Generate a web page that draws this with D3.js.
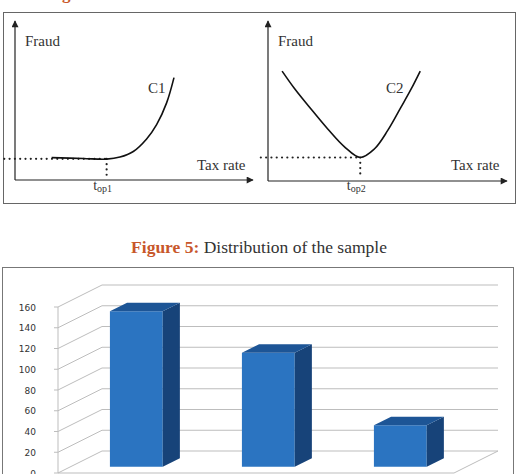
<!DOCTYPE html>
<html>
<head>
<meta charset="utf-8">
<script src="https://cdn.jsdelivr.net/npm/d3@7"></script>
<style>
  body { margin: 0; background: #fff; }
  svg { display: block; }
</style>
</head>
<body>
<svg id="chart" width="522" height="474"></svg>
<script>
// ---- data: figure 4 (fraud vs tax rate, arbitrary units 0-10)
var c1Points = [[1.54, 1.41], [2.87, 1.35], [3.85, 1.31], [4.41, 1.44], [4.97, 1.79],
                [5.53, 2.58], [5.95, 3.48], [6.37, 4.85], [6.68, 6.44]];
var c2Points = [[0.59, 6.87], [1.10, 5.80], [1.80, 4.50], [2.50, 3.25], [3.19, 2.15],
                [3.86, 1.47], [4.45, 2.00], [5.01, 3.16], [5.56, 4.60], [5.98, 5.72], [6.37, 6.87]];
var optima = [[3.85, 1.33], [3.86, 1.47]];
var curveNames = ["C1", "C2"];
var optLabels = ["1", "2"];

// ---- data: figure 5 (distribution of the sample)
var categories = ["a", "b", "c"];
var counts = [150, 110, 40];
var yTicks = [0, 20, 40, 60, 80, 100, 120, 140, 160];

var svg = d3.select("#chart");
var serif = "'Liberation Serif', 'Times New Roman', serif";

// arrow marker
svg.append("defs").append("marker")
  .attr("id", "arrow")
  .attr("viewBox", "0 0 10 10")
  .attr("refX", 9).attr("refY", 5)
  .attr("markerWidth", 9).attr("markerHeight", 7)
  .attr("markerUnits", "userSpaceOnUse")
  .attr("orient", "auto")
  .append("path").attr("d", "M0,0 L10,5 L0,10 z").attr("fill", "#222");

// clipped caption of figure 4 (only its lower edge shows)
var cap4 = svg.append("text").attr("x", 47).attr("y", -1)
  .style("font-family", serif).style("font-size", "17px");
cap4.append("tspan").attr("fill", "#c8572b").style("font-weight", "bold").text("Figure 4: ");
cap4.append("tspan").attr("fill", "#333").text("Tax fraud as a function of the tax rate for C1 and C2");

// box figure 4
svg.append("rect").attr("x", 3.5).attr("y", 12.5).attr("width", 512).attr("height", 191)
  .attr("fill", "none").attr("stroke", "#666").attr("stroke-width", 1);

var panels = [
  { x0: 15, x1: 253, yb: 180, yt: 21, pts: c1Points, dotStart: -0.45, label: [148, 93], tax: 197 },
  { x0: 268, x1: 507, yb: 181, yt: 21, pts: c2Points, dotStart: -0.3, label: [386, 93], tax: 451 }
];

panels.forEach(function(p, i) {
  var x = d3.scaleLinear().domain([0, 10]).range([p.x0, p.x1]);
  var y = d3.scaleLinear().domain([0, 10]).range([p.yb, p.yt]);
  var g = svg.append("g");

  // axes
  g.append("line").attr("x1", x(0)).attr("y1", y(0)).attr("x2", x(0)).attr("y2", y(10))
    .attr("stroke", "#222").attr("stroke-width", 1.2).attr("marker-end", "url(#arrow)");
  g.append("line").attr("x1", x(0)).attr("y1", y(0)).attr("x2", x(10)).attr("y2", y(0))
    .attr("stroke", "#222").attr("stroke-width", 1.2).attr("marker-end", "url(#arrow)");

  // dotted guide lines
  var o = optima[i];
  g.append("line").attr("x1", x(p.dotStart)).attr("y1", y(o[1])).attr("x2", x(o[0])).attr("y2", y(o[1]))
    .attr("stroke", "#222").attr("stroke-width", 2.2).attr("stroke-linecap", "round")
    .attr("stroke-dasharray", "0,5.3");
  g.append("line").attr("x1", x(o[0])).attr("y1", y(o[1])).attr("x2", x(o[0])).attr("y2", y(0.25))
    .attr("stroke", "#222").attr("stroke-width", 2.2).attr("stroke-linecap", "round")
    .attr("stroke-dasharray", "0,5.3");

  // curve
  var line = d3.line()
    .x(function(d) { return x(d[0]); })
    .y(function(d) { return y(d[1]); })
    .curve(d3.curveCatmullRom.alpha(0.5));
  g.append("path").datum(p.pts).attr("d", line)
    .attr("fill", "none").attr("stroke", "#111").attr("stroke-width", 1.6);

  // texts
  g.append("text").attr("x", x(0) + 10).attr("y", 46)
    .style("font-family", serif).style("font-size", "15px").attr("fill", "#333").text("Fraud");
  g.append("text").attr("x", p.label[0]).attr("y", p.label[1])
    .style("font-family", serif).style("font-size", "15px").attr("fill", "#333").text(curveNames[i]);
  g.append("text").attr("x", p.tax).attr("y", 170)
    .style("font-family", serif).style("font-size", "15px").attr("fill", "#333").text("Tax rate");
  var t = g.append("text").attr("x", x(o[0]) - 4).attr("y", 190).attr("text-anchor", "middle")
    .style("font-family", serif).attr("fill", "#333");
  t.append("tspan").style("font-size", "14px").text("t");
  t.append("tspan").style("font-size", "10px").attr("dy", 1.5).text("op" + optLabels[i]);
});

// caption of figure 5
var cap5 = svg.append("text").attr("x", 259).attr("y", 253).attr("text-anchor", "middle")
  .style("font-family", serif).style("font-size", "17.5px");
cap5.append("tspan").attr("fill", "#c8572b").style("font-weight", "bold").text("Figure 5: ");
cap5.append("tspan").attr("fill", "#333").text("Distribution of the sample");

// box figure 5
svg.append("rect").attr("x", 2.5).attr("y", 267.5).attr("width", 511).attr("height", 220)
  .attr("fill", "none").attr("stroke", "#777").attr("stroke-width", 1);

// 3d column chart (oblique projection)
var depthX = 44, depthY = -22;
var yv = d3.scaleLinear().domain([0, 160]).range([473, 307]);
var xb = d3.scaleBand().domain(categories).range([58, 454]).paddingInner(0.6).paddingOuter(0.3);
function P(xp, v, d) { return [xp + depthX * d, yv(v) + depthY * d]; }

var grid = svg.append("g").attr("stroke", "#bdbdbd").attr("stroke-width", 1).attr("fill", "none");
yTicks.forEach(function(v) {
  var a = P(58, v, 0), b = P(58, v, 1), c = P(454, v, 1);
  grid.append("path").attr("d", "M" + (a[0] - 4) + "," + a[1] + "L" + a + "L" + b + "L" + c);
});
grid.append("line").attr("x1", 58).attr("y1", yv(0)).attr("x2", 58).attr("y2", yv(160));
var f0 = P(454, 0, 1), f1 = P(454, 0, 0);
grid.append("line").attr("x1", f0[0]).attr("y1", f0[1]).attr("x2", f1[0]).attr("y2", f1[1]);
grid.append("line").attr("x1", 58).attr("y1", yv(0)).attr("x2", 454).attr("y2", yv(0));

svg.append("g").selectAll("text").data(yTicks).enter().append("text")
  .attr("x", 36).attr("y", function(d) { return yv(d) + 3.5; })
  .attr("text-anchor", "end")
  .style("font-family", "'DejaVu Sans', Verdana, sans-serif").style("font-size", "9px")
  .attr("fill", "#333")
  .text(function(d) { return d; });

// bars
var d0 = 0.28, d1 = 0.67;
var bars = svg.append("g");
categories.forEach(function(c, i) {
  var xl = xb(c), xr = xb(c) + xb.bandwidth(), v = counts[i];
  var fa = P(xl, 0, d0), fb = P(xr, 0, d0), fc = P(xr, v, d0), fd = P(xl, v, d0);
  var sb = P(xr, 0, d1), sc = P(xr, v, d1), td = P(xl, v, d1);
  bars.append("path").attr("d", "M" + fa + "L" + fb + "L" + fc + "L" + fd + "Z").attr("fill", "#2b74c1");
  bars.append("path").attr("d", "M" + fb + "L" + sb + "L" + sc + "L" + fc + "Z").attr("fill", "#174379");
  bars.append("path").attr("d", "M" + fd + "L" + fc + "L" + sc + "L" + td + "Z").attr("fill", "#1d5596");
});
</script>
</body>
</html>
